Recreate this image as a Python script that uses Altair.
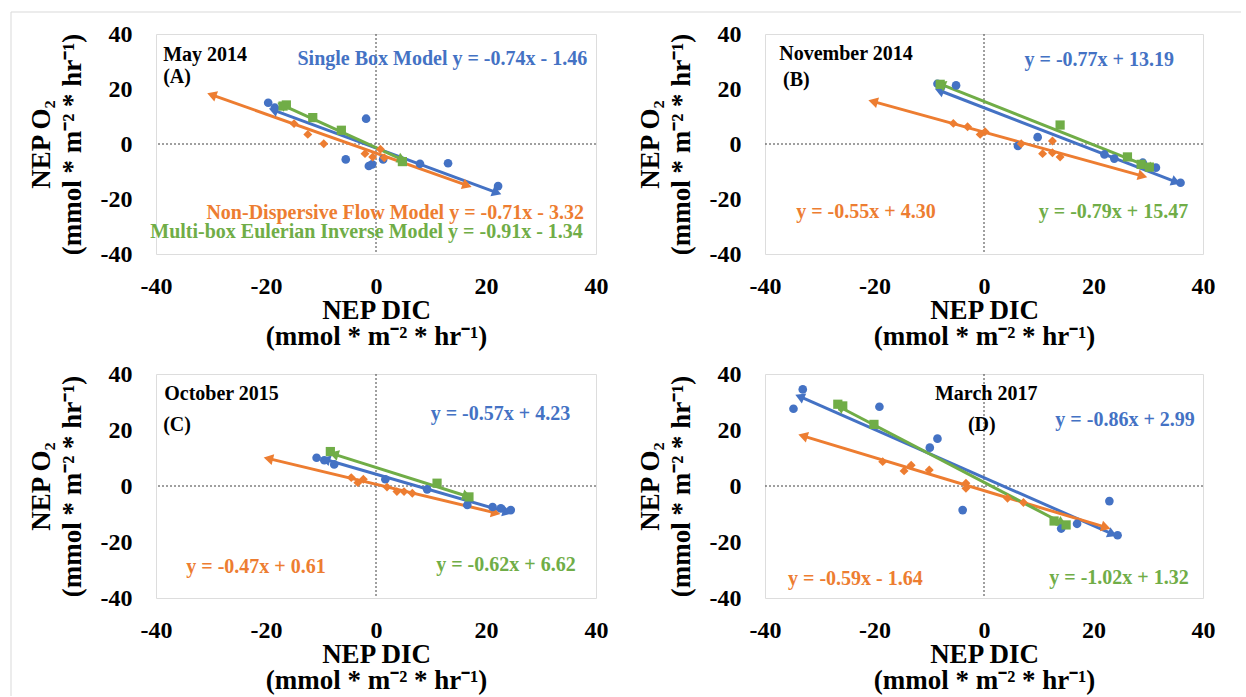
import math
import altair as alt
import pandas as pd

TICKS = [-40, -20, 0, 20, 40]
SERIES = ["Single Box Model", "Non-Dispersive Flow Model", "Multi-box Eulerian Inverse Model"]
COLORS = ["#4472C4", "#ED7D31", "#70AD47"]
SHAPES = ["circle", "diamond", "square"]
X_TITLE = ["NEP DIC", "(mmol * m⁻² * hr⁻¹)"]
Y_TITLE = ["NEP O₂", "(mmol * m⁻² * hr⁻¹)"]

# ---------------- Panel A: May 2014 ----------------
a_blue_x = [-19.6, -18.4, -1.8, -5.5, -1.3, -0.7, 1.3, 8.0, 13.1, 22.2]
a_blue_y = [15.0, 13.2, 9.2, -5.6, -8.0, -7.4, -5.6, -7.2, -7.0, -15.3]
a_orange_x = [-14.9, -12.4, -9.5, -2.0, -0.6, 0.8, 1.5]
a_orange_y = [7.4, 3.5, 0.1, -3.5, -4.7, -1.9, -5.0]
a_green_x = [-16.9, -16.3, -11.5, -6.3, 4.8]
a_green_y = [13.8, 14.2, 9.6, 5.0, -6.4]
a_slopes = [-0.74, -0.71, -0.91]
a_intercepts = [-1.46, -3.32, -1.34]
a_fit_from = [-18.4, -29.6, -16.9]
a_fit_to = [21.7, 16.3, 4.5]
a_labels = ["May 2014", "(A)", "Single Box Model y = -0.74x - 1.46",
            "Non-Dispersive Flow Model y = -0.71x - 3.32",
            "Multi-box Eulerian Inverse Model y = -0.91x - 1.34"]

# ---------------- Panel B: November 2014 ----------------
b_blue_x = [-8.5, -5.1, 6.2, 9.8, 22.0, 23.8, 29.0, 31.4, 35.9]
b_blue_y = [21.9, 21.3, -0.7, 2.5, -3.8, -5.3, -6.8, -8.6, -14.1]
b_orange_x = [-5.6, -3.0, -0.7, 0.2, 6.8, 10.7, 12.5, 12.5, 13.9]
b_orange_y = [7.5, 6.3, 3.5, 4.5, 0.1, -3.5, 1.1, -3.2, -4.7]
b_green_x = [-8.0, 13.9, 26.2, 28.7, 30.2]
b_green_y = [21.7, 6.9, -4.7, -7.4, -8.4]
b_slopes = [-0.77, -0.55, -0.79]
b_intercepts = [13.19, 4.30, 15.47]
b_fit_from = [-7.9, -20.0, -7.6]
b_fit_to = [34.8, 28.7, 30.5]
b_labels = ["November 2014", "(B)", "y = -0.77x + 13.19", "y = -0.55x + 4.30", "y = -0.79x + 15.47"]

# ---------------- Panel C: October 2015 ----------------
c_blue_x = [-10.8, -9.4, -7.6, 1.7, 9.3, 16.6, 21.2, 22.7, 24.5]
c_blue_y = [10.1, 9.2, 7.7, 2.4, -1.2, -6.8, -7.5, -8.0, -8.6]
c_orange_x = [-4.5, -3.3, -2.3, 2.0, 3.8, 5.1, 6.6]
c_orange_y = [3.0, 1.2, 2.4, -0.4, -2.0, -2.0, -2.6]
c_green_x = [-8.3, 11.1, 16.9]
c_green_y = [12.3, 1.0, -3.9]
c_slopes = [-0.57, -0.47, -0.62]
c_intercepts = [4.23, 0.61, 6.62]
c_fit_from = [-8.9, -19.3, -7.4]
c_fit_to = [23.6, 21.5, 16.3]
c_labels = ["October 2015", "(C)", "y = -0.57x + 4.23", "y = -0.47x + 0.61", "y = -0.62x + 6.62"]

# ---------------- Panel D: March 2017 ----------------
d_blue_x = [-33.1, -34.8, -19.1, -9.9, -8.5, -3.9, 14.1, 17.0, 22.9, 24.4]
d_blue_y = [34.5, 27.6, 28.3, 13.7, 16.9, -8.6, -15.2, -13.5, -5.4, -17.6]
d_orange_x = [-18.5, -14.6, -13.3, -10.0, -3.3, -3.3, 4.3, 7.2]
d_orange_y = [8.7, 5.4, 7.4, 5.7, 1.0, -0.8, -4.4, -5.9]
d_green_x = [-26.7, -25.8, -20.1, 12.8, 15.0]
d_green_y = [29.2, 28.6, 22.0, -12.5, -13.9]
d_slopes = [-0.86, -0.59, -1.02]
d_intercepts = [2.99, -1.64, 1.32]
d_fit_from = [-33.4, -32.8, -26.1]
d_fit_to = [23.2, 22.0, 14.0]
d_labels = ["March 2017", "(D)", "y = -0.86x + 2.99", "y = -0.59x - 1.64", "y = -1.02x + 1.32"]

# annotation anchors (data coordinates) and alignment, per panel
ANCHORS = {
    "A": [(-38.7, 30.2, "left"), (-38.7, 22.2, "left"), (38.4, 28.7, "right"),
          (37.8, -27.3, "right"), (37.6, -34.2, "right")],
    "B": [(-37.4, 30.5, "left"), (-36.7, 21.1, "left"), (34.7, 28.4, "right"),
          (-34.3, -26.8, "left"), (37.3, -26.8, "right")],
    "C": [(-38.5, 30.7, "left"), (-38.7, 19.6, "left"), (35.3, 23.6, "right"),
          (-34.5, -31.1, "left"), (36.3, -30.4, "right")],
    "D": [(0.4, 30.7, "center"), (-0.4, 19.6, "center"), (38.5, 21.4, "right"),
          (-35.8, -35.4, "left"), (37.4, -35.0, "right")],
}
LABEL_COLORS = ["black", "black"] + COLORS

FONT = "Liberation Serif"


def make_panel(key, pts, slopes, intercepts, fit_from, fit_to, labels, W, H, frame=False):
    xaxis = alt.Axis(values=TICKS, ticks=False, domain=False, grid=False, labelFlush=False,
                     labelExpr="'' + datum.value",
                     labelFont=FONT, labelFontWeight="bold", labelFontSize=24, labelColor="black",
                     labelPadding=20, title=X_TITLE, titleFont=FONT, titleFontWeight="bold",
                     titleFontSize=27, titleColor="black", titleLineHeight=26,
                     titleBaseline="alphabetic", titleY=64)
    yaxis = alt.Axis(values=TICKS, ticks=False, domain=False, grid=False, labelFlush=False,
                     labelExpr="'' + datum.value",
                     labelFont=FONT, labelFontWeight="bold", labelFontSize=24, labelColor="black",
                     labelPadding=24, title=Y_TITLE, titleFont=FONT, titleFontWeight="bold",
                     titleFontSize=27, titleColor="black", titleLineHeight=31, titleAngle=270,
                     titleAlign="center", titleBaseline="middle", titleX=-115, titleY=H / 2)
    X = alt.X("x:Q", scale=alt.Scale(domain=[-40, 40], nice=False, zero=False), axis=xaxis)
    Y = alt.Y("y:Q", scale=alt.Scale(domain=[-40, 40], nice=False, zero=False), axis=yaxis)

    zero = pd.DataFrame({"x": [0], "y": [0]})
    layers = [
        alt.Chart(zero).mark_rule(color="#404040", strokeDash=[2, 2], strokeWidth=1).encode(x=X),
        alt.Chart(zero).mark_rule(color="#404040", strokeDash=[2, 2], strokeWidth=1).encode(y=Y),
    ]

    # fitted trend lines with arrowheads
    line_rows, head_rows = [], []
    for s in range(3):
        m, b = slopes[s], intercepts[s]
        ang = math.degrees(math.atan2(W / 80.0, m * H / 80.0)) % 360
        for xv, a in ((fit_from[s], (ang + 180) % 360), (fit_to[s], ang)):
            line_rows.append({"series": SERIES[s], "x": xv, "y": m * xv + b})
            head_rows.append({"series": SERIES[s], "x": xv, "y": m * xv + b, "angle": a})
    color = alt.Color("series:N", scale=alt.Scale(domain=SERIES, range=COLORS), legend=None)
    layers.append(alt.Chart(pd.DataFrame(line_rows)).mark_line(strokeWidth=3).encode(
        x=X, y=Y, color=color, detail="series:N"))
    layers.append(alt.Chart(pd.DataFrame(head_rows)).mark_point(
        shape="triangle", filled=True, size=120, opacity=1).encode(
        x=X, y=Y, color=color, angle=alt.Angle("angle:Q", scale=None)))

    # measured points
    sizes = [75, 80, 85]
    for s in range(3):
        xs, ys = pts[s]
        df = pd.DataFrame({"x": xs, "y": ys})
        layers.append(alt.Chart(df).mark_point(
            shape=SHAPES[s], filled=True, size=sizes[s], opacity=1, color=COLORS[s]).encode(x=X, y=Y))

    # annotations
    for i, txt in enumerate(labels):
        ax, ay, al = ANCHORS[key][i]
        df = pd.DataFrame({"x": [ax], "y": [ay], "t": [txt]})
        layers.append(alt.Chart(df).mark_text(
            font=FONT, fontWeight="bold", fontSize=20, align=al, baseline="alphabetic",
            color=LABEL_COLORS[i]).encode(x=X, y=Y, text="t:N"))

    if frame:
        layers.append(alt.Chart(zero).mark_rule(color="#d9d9d9", strokeWidth=1).encode(
            x=alt.value(-145), x2=alt.value(1085), y=alt.value(-22)))
        layers.append(alt.Chart(zero).mark_rule(color="#d9d9d9", strokeWidth=1).encode(
            x=alt.value(-145), y=alt.value(-22), y2=alt.value(662)))

    return alt.layer(*layers).properties(width=W, height=H)


pA = make_panel("A", [(a_blue_x, a_blue_y), (a_orange_x, a_orange_y), (a_green_x, a_green_y)],
                a_slopes, a_intercepts, a_fit_from, a_fit_to, a_labels, 440, 220, frame=True)
pB = make_panel("B", [(b_blue_x, b_blue_y), (b_orange_x, b_orange_y), (b_green_x, b_green_y)],
                b_slopes, b_intercepts, b_fit_from, b_fit_to, b_labels, 438, 220)
pC = make_panel("C", [(c_blue_x, c_blue_y), (c_orange_x, c_orange_y), (c_green_x, c_green_y)],
                c_slopes, c_intercepts, c_fit_from, c_fit_to, c_labels, 440, 224)
pD = make_panel("D", [(d_blue_x, d_blue_y), (d_orange_x, d_orange_y), (d_green_x, d_green_y)],
                d_slopes, d_intercepts, d_fit_from, d_fit_to, d_labels, 438, 224)

chart = alt.concat(pA, pB, pC, pD, columns=2, spacing={"row": 120, "column": 169},
                   bounds="flush").properties(
    padding={"left": 10, "top": 11, "right": 0, "bottom": 0}
).configure_view(stroke="#505050", strokeWidth=1.5).configure(background="white")

chart.save("out.html", embed_options={"renderer": "svg", "actions": False})
